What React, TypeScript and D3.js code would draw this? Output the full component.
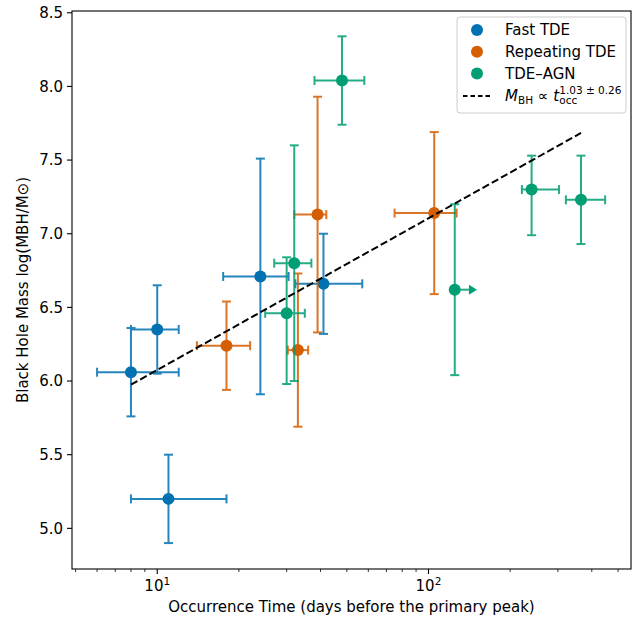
import React, { useEffect, useRef } from 'react';
import * as d3 from 'd3';

// Fast TDE
const fastT = [8, 10, 11, 24, 41];
const fastTErrLo = [2, 2, 3, 6.5, 8.7];
const fastTErrHi = [4, 2, 7, 6.5, 16];
const fastM = [6.06, 6.35, 5.2, 6.71, 6.66];
const fastMErrLo = [0.3, 0.3, 0.3, 0.8, 0.34];
const fastMErrHi = [0.3, 0.3, 0.3, 0.8, 0.34];

// Repeating TDE
const repT = [18, 33, 39, 105];
const repTErrLo = [4, 2.7, 7, 30];
const repTErrHi = [4, 3, 3, 22];
const repM = [6.24, 6.21, 7.13, 7.14];
const repMErrLo = [0.3, 0.52, 0.8, 0.55];
const repMErrHi = [0.3, 0.52, 0.8, 0.55];

// TDE-AGN
const agnT = [48, 32, 30, 125, 240, 365];
const agnTErrLo = [10, 5, 5, 0, 19, 44];
const agnTErrHi = [10, 5, 5, 16, 63, 83];
const agnLoLim = [false, false, false, true, false, false];
const agnM = [8.04, 6.8, 6.46, 6.62, 7.3, 7.23];
const agnMErrLo = [0.3, 0.8, 0.48, 0.58, 0.31, 0.3];
const agnMErrHi = [0.3, 0.8, 0.38, 0.58, 0.23, 0.3];

// power-law fit
const fitSlope = 1.03;
const fitIntercept = 5.045;
const fitRange = [8, 365];

const yTicks = [5.0, 5.5, 6.0, 6.5, 7.0, 7.5, 8.0, 8.5];
const xMajor = [10, 100];
const xMinor = [5, 6, 7, 8, 9, 20, 30, 40, 50, 60, 70, 80, 90, 200, 300, 400, 500];

const FONT = "'DejaVu Sans', sans-serif";
const FS = 15;

const App = () => {
    const ref = useRef(null);

    useEffect(() => {
        const root = d3.select(ref.current);
        root.selectAll("*").remove();

        const width = 643;
        const height = 622;
        const plot = { left: 72, right: 631, top: 11, bottom: 569 };

        const svg = root.append("svg")
            .attr("width", width)
            .attr("height", height)
            .style("position", "absolute")
            .style("left", "0px")
            .style("top", "0px")
            .style("font-family", FONT);

        const x = d3.scaleLog().domain([4.85, 558]).range([plot.left, plot.right]);
        const y = d3.scaleLinear().domain([4.724, 8.512]).range([plot.bottom, plot.top]);

        const series = [
            { name: "Fast TDE", color: "#0072b2", t: fastT, tLo: fastTErrLo, tHi: fastTErrHi, m: fastM, mLo: fastMErrLo, mHi: fastMErrHi, lolim: fastT.map(() => false) },
            { name: "Repeating TDE", color: "#d55e00", t: repT, tLo: repTErrLo, tHi: repTErrHi, m: repM, mLo: repMErrLo, mHi: repMErrHi, lolim: repT.map(() => false) },
            { name: "TDE\u2013AGN", color: "#009e73", t: agnT, tLo: agnTErrLo, tHi: agnTErrHi, m: agnM, mLo: agnMErrLo, mHi: agnMErrHi, lolim: agnLoLim },
        ];

        const cap = 4.5;
        const lw = 2;

        // Error bars and points
        series.forEach(s => {
            const g = svg.append("g");
            const bars = g.append("g").attr("stroke", s.color).attr("stroke-width", lw).attr("opacity", 0.85);
            s.t.forEach((t, i) => {
                const cx = x(t);
                const cy = y(s.m[i]);
                const yTop = y(s.m[i] + s.mHi[i]);
                const yBot = y(s.m[i] - s.mLo[i]);
                const xl = x(t - s.tLo[i]);
                const xr = x(t + s.tHi[i]);
                // vertical
                bars.append("line").attr("x1", cx).attr("x2", cx).attr("y1", yTop).attr("y2", yBot);
                bars.append("line").attr("x1", cx - cap).attr("x2", cx + cap).attr("y1", yTop).attr("y2", yTop);
                bars.append("line").attr("x1", cx - cap).attr("x2", cx + cap).attr("y1", yBot).attr("y2", yBot);
                // horizontal
                bars.append("line").attr("x1", xl).attr("x2", xr).attr("y1", cy).attr("y2", cy);
                if (s.lolim[i]) {
                    g.append("path")
                        .attr("d", `M${xr},${cy - 5}L${xr + 8},${cy}L${xr},${cy + 5}Z`)
                        .attr("fill", s.color);
                } else {
                    bars.append("line").attr("x1", xl).attr("x2", xl).attr("y1", cy - cap).attr("y2", cy + cap);
                    bars.append("line").attr("x1", xr).attr("x2", xr).attr("y1", cy - cap).attr("y2", cy + cap);
                }
            });
            g.selectAll("circle")
                .data(s.t.map((t, i) => ({ t, m: s.m[i] })))
                .enter()
                .append("circle")
                .attr("cx", d => x(d.t))
                .attr("cy", d => y(d.m))
                .attr("r", 6)
                .attr("fill", s.color);
        });

        // Fit line
        const fitLine = d3.line()
            .x(d => x(d))
            .y(d => y(fitIntercept + fitSlope * Math.log10(d)));
        svg.append("path")
            .datum(fitRange)
            .attr("d", fitLine)
            .attr("fill", "none")
            .attr("stroke", "#000")
            .attr("stroke-width", 2)
            .attr("stroke-dasharray", "7.4,3.2");

        // Frame
        svg.append("rect")
            .attr("x", plot.left)
            .attr("y", plot.top)
            .attr("width", plot.right - plot.left)
            .attr("height", plot.bottom - plot.top)
            .attr("fill", "none")
            .attr("stroke", "#000")
            .attr("stroke-width", 1.1);

        // Y ticks
        const yAxis = svg.append("g");
        yTicks.forEach(v => {
            yAxis.append("line")
                .attr("x1", plot.left - 5).attr("x2", plot.left)
                .attr("y1", y(v)).attr("y2", y(v))
                .attr("stroke", "#000").attr("stroke-width", 1.1);
            yAxis.append("text")
                .attr("x", plot.left - 9)
                .attr("y", y(v))
                .attr("dy", "0.36em")
                .attr("text-anchor", "end")
                .attr("font-size", FS)
                .text(v.toFixed(1));
        });

        // X ticks
        const xAxis = svg.append("g");
        xMinor.forEach(v => {
            xAxis.append("line")
                .attr("x1", x(v)).attr("x2", x(v))
                .attr("y1", plot.bottom).attr("y2", plot.bottom + 3)
                .attr("stroke", "#000").attr("stroke-width", 0.8);
        });
        xMajor.forEach(v => {
            xAxis.append("line")
                .attr("x1", x(v)).attr("x2", x(v))
                .attr("y1", plot.bottom).attr("y2", plot.bottom + 5)
                .attr("stroke", "#000").attr("stroke-width", 1.1);
            const t = xAxis.append("text")
                .attr("x", x(v))
                .attr("y", plot.bottom + 22)
                .attr("text-anchor", "middle")
                .attr("font-size", FS);
            t.append("tspan").text("10");
            t.append("tspan")
                .attr("dy", -6)
                .attr("font-size", 10.5)
                .text(Math.round(Math.log10(v)));
        });

        // Axis labels
        svg.append("text")
            .attr("text-anchor", "middle")
            .attr("x", (plot.left + plot.right) / 2)
            .attr("y", 612)
            .attr("font-size", FS)
            .text("Occurrence Time (days before the primary peak)");

        svg.append("text")
            .attr("text-anchor", "middle")
            .attr("transform", `translate(28, ${(plot.top + plot.bottom) / 2}) rotate(-90)`)
            .attr("font-size", FS)
            .text("Black Hole Mass log(MBH/M\u2299)");

        // Legend
        const legend = svg.append("g").attr("transform", "translate(457, 17)");
        legend.append("rect")
            .attr("width", 169)
            .attr("height", 96)
            .attr("rx", 3)
            .attr("fill", "#fff")
            .attr("fill-opacity", 0.8)
            .attr("stroke", "#cccccc")
            .attr("stroke-width", 1);

        series.forEach((s, i) => {
            const ly = 13 + i * 21.7;
            legend.append("circle")
                .attr("cx", 20).attr("cy", ly).attr("r", 6).attr("fill", s.color);
            legend.append("text")
                .attr("x", 48).attr("y", ly).attr("dy", "0.36em")
                .attr("font-size", FS)
                .text(s.name);
        });

        const fy = 13 + 3 * 21.7 + 1;
        legend.append("line")
            .attr("x1", 6).attr("x2", 35).attr("y1", fy).attr("y2", fy)
            .attr("stroke", "#000").attr("stroke-width", 2)
            .attr("stroke-dasharray", "4.5,3");

        // mathtext-style label: measure each piece, then lay out as tspans of one text
        const base = fy + 5;
        const pieces = [
            { txt: "M", italic: true },
            { txt: "BH", size: 10.5, dy: 3 },
            { txt: "\u00a0\u221d\u00a0" },
            { txt: "t", italic: true },
            { txt: "occ", size: 10.5, dy: 3, mark: true },
            { txt: "1.03\u00a0\u00b1\u00a00.26", size: 10.5, dy: -7, back: true },
        ];
        const probe = legend.append("text").attr("visibility", "hidden");
        let cursor = 48;
        let markX = 48;
        const laid = pieces.map(p => {
            probe.attr("font-size", p.size || FS)
                .attr("font-style", p.italic ? "italic" : "normal")
                .text(p.txt);
            const w = probe.node().getComputedTextLength();
            if (p.back) cursor = markX;
            if (p.mark) markX = cursor;
            const px = cursor;
            cursor += w;
            return { ...p, px };
        });
        probe.remove();
        const label = legend.append("text");
        laid.forEach(p => {
            label.append("tspan")
                .attr("x", p.px)
                .attr("y", base + (p.dy || 0))
                .attr("font-size", p.size || FS)
                .attr("font-style", p.italic ? "italic" : "normal")
                .text(p.txt);
        });
    }, []);

    return <div ref={ref}></div>;
};

export default App;
